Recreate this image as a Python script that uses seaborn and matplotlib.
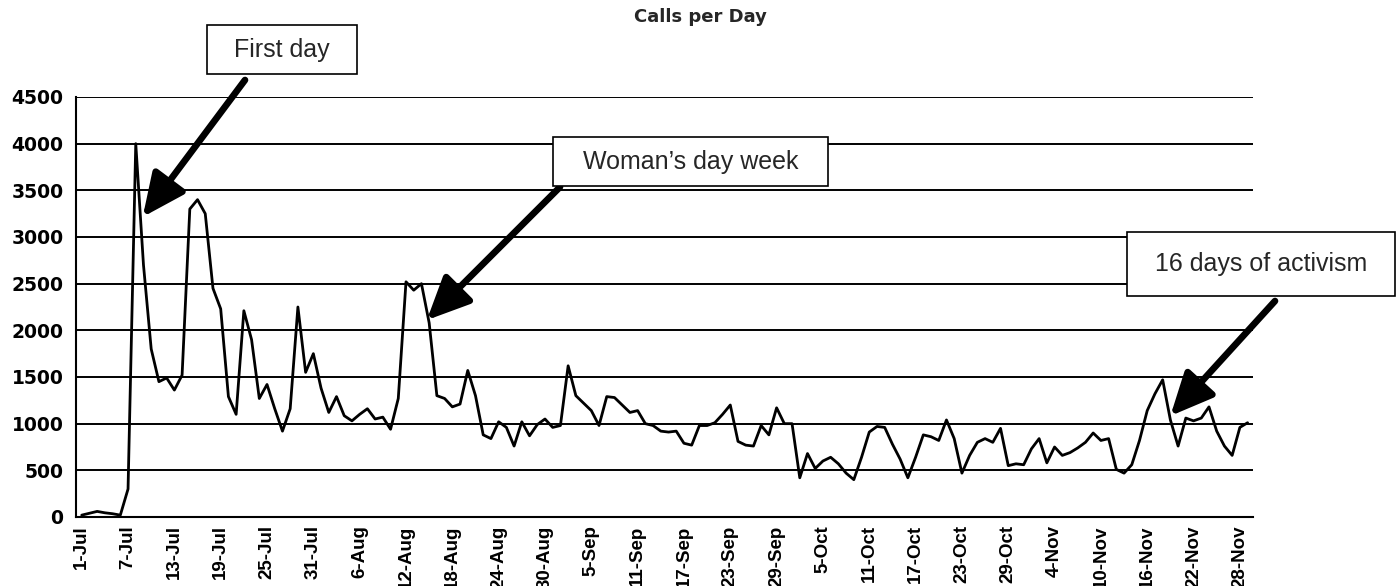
# Calls per Day - line chart with callout boxes
import matplotlib
matplotlib.use('Agg')
import matplotlib.pyplot as plt
from matplotlib.patches import Rectangle
import seaborn as sns
import pandas as pd

# ── Data (one value per day from 1-Jul) ──
calls_jul = [20, 40, 60, 45, 35, 20, 300,
             4000, 2700, 1800, 1450, 1490, 1360, 1520, 3300, 3400, 3250,
             2450, 2230, 1290, 1100, 2210, 1900, 1270, 1420, 1160, 920,
             1160, 2250, 1550, 1750]
calls_aug = [1380, 1120, 1290, 1085, 1030, 1100, 1160, 1050, 1070, 940,
             1270, 2520, 2430, 2500, 2080, 1300, 1270, 1180, 1210, 1570,
             1300, 880, 840, 1020, 960, 760, 1020, 870, 990, 1050, 960]
calls_sep = [980, 1620, 1300, 1220, 1140, 980, 1290, 1280, 1200, 1120,
             1140, 1000, 980, 920, 910, 920, 790, 770, 980, 980,
             1010, 1100, 1200, 810, 770, 760, 980, 880, 1170, 1000]
calls_oct = [1000, 420, 680, 520, 600, 640, 570, 470, 400, 640,
             910, 970, 960, 780, 620, 420, 640, 880, 860, 820,
             1040, 840, 470, 660, 800, 840, 800, 950, 550, 570, 560]
calls_nov = [730, 840, 580, 750, 660, 690, 740, 800, 900, 820,
             840, 510, 470, 560, 820, 1140, 1320, 1470, 1040, 760,
             1060, 1030, 1060, 1180, 920, 760, 660, 960, 1010]

months = [('Jul', 31), ('Aug', 31), ('Sep', 30), ('Oct', 31), ('Nov', 29)]
dates = [f'{d}-{m}' for m, n in months for d in range(1, n + 1)]
calls = calls_jul + calls_aug + calls_sep + calls_oct + calls_nov

df = pd.DataFrame({'date': dates, 'calls': calls})
df['day'] = range(len(df))

tick_every = 6
y_ticks = list(range(0, 4501, 500))

# callouts: text, box (left, top, right, bottom) in px, arrow start px, arrow tip (day, calls)
notes = [
    ('First day',             (207, 25, 357, 74),    (245, 80),   (7.9, 3215)),
    ('Woman\u2019s day week', (553, 137, 828, 186),  (560, 187),  (44.7, 2110)),
    ('16 days of activism',   (1127, 232, 1395, 296), (1275, 301), (141.0, 1083)),
]

# ── Figure ────────────────────────────────────────────────────
W, H = 1399, 586
def fx(px): return px / W
def fy(py): return 1 - py / H

sns.set_style('white')
plt.rcParams['font.family'] = ['DejaVu Sans']

fig = plt.figure(figsize=(W / 100, H / 100), dpi=100)
ax = fig.add_axes([fx(76), fy(517), fx(1253) - fx(76), fy(97) - fy(517)])

ax.yaxis.grid(True, color='black', linewidth=1.4)
ax.set_axisbelow(True)
sns.lineplot(data=df, x='day', y='calls', color='black', linewidth=2.0, ax=ax, zorder=3)

ax.set_ylim(0, 4500)
ax.set_yticks(y_ticks)
ax.set_xlim(-0.74, len(df) - 0.3)
ax.set_xticks(df['day'][::tick_every])
ax.set_xticklabels(df['date'][::tick_every], rotation=90)
ax.set_xticks(df['day'], minor=True)
ax.set_xlabel('')
ax.set_ylabel('')

for s in ['top', 'right']:
    ax.spines[s].set_visible(False)
for s in ['left', 'bottom']:
    ax.spines[s].set_color('black')
    ax.spines[s].set_linewidth(1.5)

ax.tick_params(axis='y', length=5, width=1.3, pad=4, labelsize=13.5, colors='black')
ax.tick_params(axis='x', which='major', length=3, width=1.2, pad=3, labelsize=13.5, colors='black')
ax.tick_params(axis='x', which='minor', length=3, width=1.0, colors='black')
for lab in ax.get_yticklabels():
    lab.set_fontweight('bold')
for lab in ax.get_xticklabels():
    lab.set_fontweight('bold')
    lab.set_family(['Liberation Sans', 'DejaVu Sans'])

fig.text(fx(700), fy(17), 'Calls per Day', ha='center', va='center',
         fontsize=13, fontweight='bold')

for text, (x0, y0, x1, y1), start, tip in notes:
    fig.add_artist(Rectangle((fx(x0), fy(y1)), fx(x1) - fx(x0), fy(y0) - fy(y1),
                             transform=fig.transFigure, facecolor='white',
                             edgecolor='black', linewidth=1.2, zorder=5))
    fig.text(fx((x0 + x1) / 2), fy((y0 + y1) / 2), text, ha='center', va='center',
             fontsize=18, family=['Liberation Sans', 'DejaVu Sans'], zorder=6)
    ax.annotate('', xy=tip, xycoords='data',
                xytext=(start[0], H - start[1]), textcoords='figure pixels',
                arrowprops=dict(arrowstyle='-|>,head_length=1.3,head_width=0.6',
                                mutation_scale=20, linewidth=4.8, color='black',
                                shrinkA=0, shrinkB=0),
                annotation_clip=False, zorder=7)

fig.savefig('out.png', dpi=100)
